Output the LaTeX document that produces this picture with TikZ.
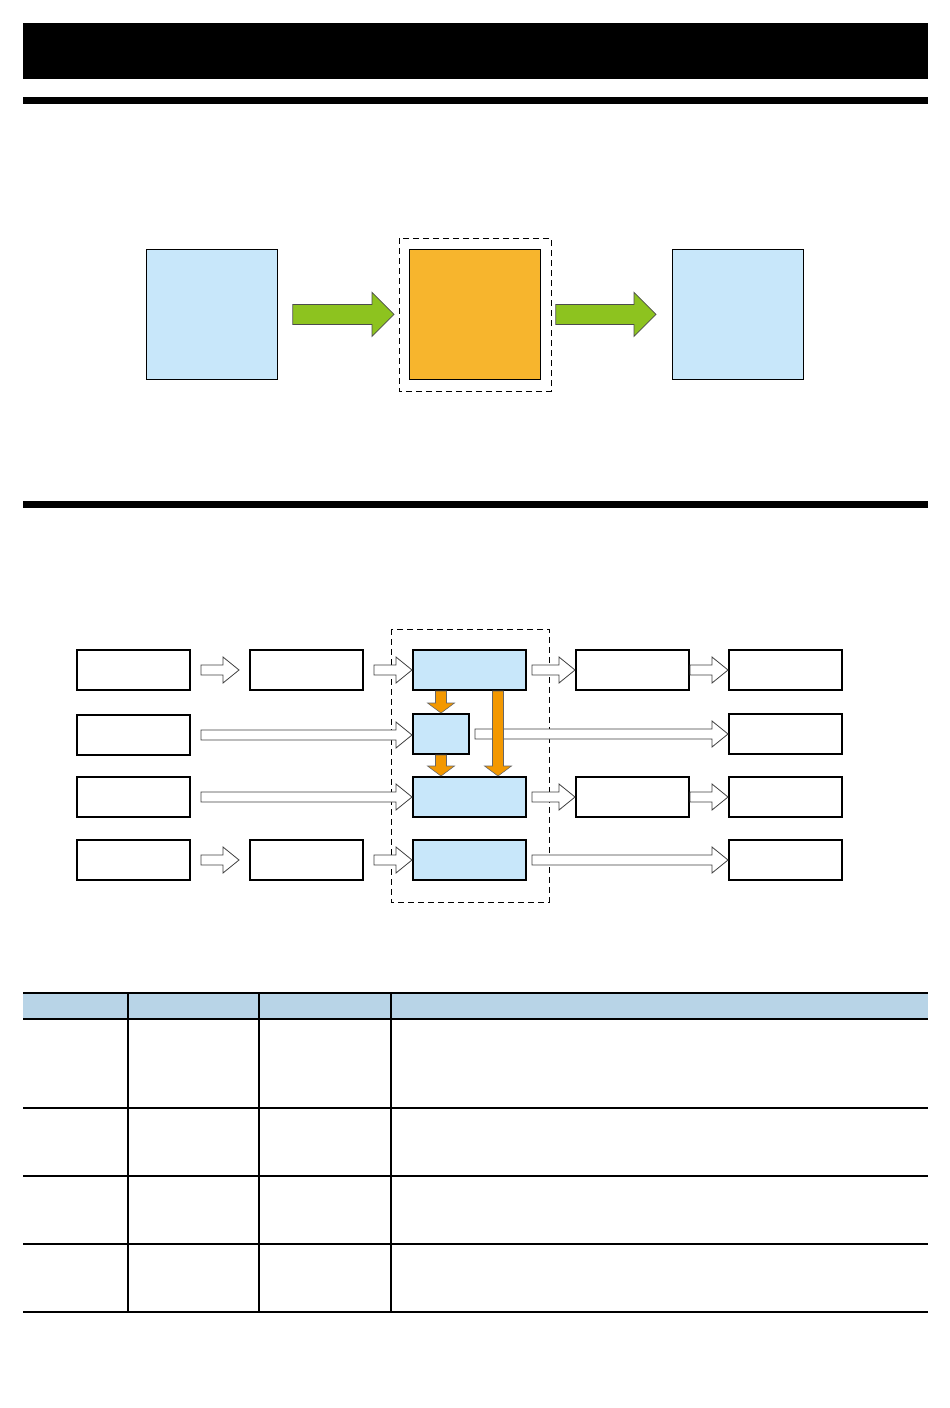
\documentclass[tikz,border=0pt]{standalone}
\usetikzlibrary{calc}

\definecolor{paleblue}{HTML}{C8E7FA}
\definecolor{headblue}{HTML}{B8D4E7}
\definecolor{boxorange}{HTML}{F7B52D}
\definecolor{arrorange}{HTML}{F39800}
\definecolor{arrgreen}{HTML}{8DC31F}

\tikzset{
  bigbox/.style={draw, line width=0.8pt, minimum width=131pt, minimum height=130pt, inner sep=0pt, anchor=north west},
  unit/.style={draw, line width=2pt, minimum width=113pt, minimum height=40pt, inner sep=0pt, anchor=north west},
  core/.style={unit, fill=paleblue},
  openarr/.style={draw=black!75, fill=white, line width=0.8pt},
  greenarr/.style={draw=black!70, fill=arrgreen, line width=0.8pt},
  orangearr/.style={draw=black!60, fill=arrorange, line width=0.6pt},
  frame/.style={draw, dash pattern=on 6pt off 4pt, line width=0.8pt},
  grid/.style={line width=1.2pt}
}

\newcommand\openarrow[2]{\draw[openarr] let \p1=(#1), \p2=(#2) in
  (\x1,\y1+5pt) -- (\x2-16pt,\y1+5pt) -- (\x2-16pt,\y1+13pt) -- (\x2,\y1) --
  (\x2-16pt,\y1-13pt) -- (\x2-16pt,\y1-5pt) -- (\x1,\y1-5pt) -- cycle;}
\newcommand\greenarrow[2]{\draw[greenarr] let \p1=(#1), \p2=(#2) in
  (\x1,\y1+10pt) -- (\x2-22pt,\y1+10pt) -- (\x2-22pt,\y1+22pt) -- (\x2,\y1) --
  (\x2-22pt,\y1-22pt) -- (\x2-22pt,\y1-10pt) -- (\x1,\y1-10pt) -- cycle;}
\newcommand\feedarrow[2]{\draw[orangearr] let \p1=(#1), \p2=(#2) in
  (\x1-5.5pt,\y1) -- (\x1-5.5pt,\y2+10pt) -- (\x1-13.5pt,\y2+10pt) -- (\x1,\y2) --
  (\x1+13.5pt,\y2+10pt) -- (\x1+5.5pt,\y2+10pt) -- (\x1+5.5pt,\y1) -- cycle;}

\begin{document}
\begin{tikzpicture}[x=1pt, y=-1pt]
    \useasboundingbox (0,0) rectangle (950,1408);

    \fill (23,23) rectangle (928,79);
    \fill (23,97) rectangle (928,104);
    \fill (23,501) rectangle (928,508);

    \node[bigbox, fill=paleblue] (input) at (146,249) {};
    \node[bigbox, fill=boxorange] (engine) at (409,249) {};
    \node[bigbox, fill=paleblue] (output) at (672,249) {};
    \draw[frame] (399,238) rectangle (551,391);

    \greenarrow{[xshift=15pt]input.east}{[xshift=-15pt]engine.west}
    \greenarrow{[xshift=15pt]engine.east}{[xshift=-16pt]output.west}

    \draw[frame] (391,629) rectangle (549,902);

    \node[unit] (src1) at (76,649) {};
    \node[unit] (src2) at (76,714) {};
    \node[unit] (src3) at (76,776) {};
    \node[unit] (src4) at (76,839) {};

    \node[unit] (pre1) at (249,649) {};
    \node[unit] (pre4) at (249,839) {};

    \node[core] (core1) at (412,649) {};
    \node[core, minimum width=56pt] (relay) at (412,713) {};
    \node[core] (core3) at (412,776) {};
    \node[core] (core4) at (412,839) {};

    \node[unit] (post1) at (575,649) {};
    \node[unit] (post3) at (575,776) {};

    \node[unit] (out1) at (728,649) {};
    \node[unit] (out2) at (728,713) {};
    \node[unit] (out3) at (728,776) {};
    \node[unit] (out4) at (728,839) {};

    \openarrow{[xshift=10pt]src1.east}{[xshift=-10pt]pre1.west}
    \openarrow{[xshift=10pt]pre1.east}{core1.west}
    \openarrow{[xshift=10pt]src2.east}{relay.west}
    \openarrow{[xshift=10pt]src3.east}{core3.west}
    \openarrow{[xshift=10pt]src4.east}{[xshift=-10pt]pre4.west}
    \openarrow{[xshift=10pt]pre4.east}{core4.west}

    \openarrow{[xshift=5pt]relay.east}{out2.west}
    \feedarrow{relay.north |- core1.south}{relay.north}
    \feedarrow{relay.south}{relay.south |- core3.north}
    \feedarrow{[xshift=-29pt]core1.south east}{[xshift=-29pt]core3.north east}

    \openarrow{[xshift=5pt]core1.east}{post1.west}
    \openarrow{post1.east}{out1.west}
    \openarrow{[xshift=5pt]core3.east}{post3.west}
    \openarrow{post3.east}{out3.west}
    \openarrow{[xshift=5pt]core4.east}{out4.west}

    \fill[headblue] (23,993) rectangle (928,1019);
    \draw[grid] (23,993) -- (928,993);
    \foreach \y in {1019,1108,1176,1244,1312}
      \draw[grid] (23,\y) -- (928,\y);
    \foreach \x in {128,259,391}
      \draw[grid] (\x,993) -- (\x,1312);

\end{tikzpicture}
\end{document}
